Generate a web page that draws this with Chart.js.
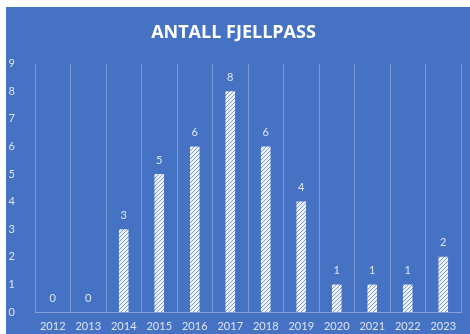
<!DOCTYPE html>
<html>
<head>
<meta charset="utf-8">
<script src="https://cdn.jsdelivr.net/npm/chart.js@4"></script>
<style>
  html, body { margin: 0; padding: 0; background: #ffffff; }
  #wrap { position: absolute; left: 6px; top: 7px; width: 464px; height: 327px; background: #4672c4; }
</style>
</head>
<body>
<div id="wrap"><canvas id="chart" width="464" height="327"></canvas></div>
<script>
const years = ['2012', '2013', '2014', '2015', '2016', '2017', '2018', '2019', '2020', '2021', '2022', '2023'];
const fjellpass = [0, 0, 3, 5, 6, 8, 6, 4, 1, 1, 1, 2];
const yTicks = [0, 1, 2, 3, 4, 5, 6, 7, 8, 9];

document.addEventListener("DOMContentLoaded", drawChart);

function makeHatch() {
  let c = document.createElement('canvas');
  c.width = 4;
  c.height = 4;
  let g = c.getContext('2d');
  g.fillStyle = '#eef2fa';
  g.fillRect(0, 0, 4, 4);
  g.strokeStyle = '#7d9bd3';
  g.lineWidth = 1;
  g.beginPath();
  g.moveTo(0, 4); g.lineTo(4, 0);
  g.moveTo(-1, 1); g.lineTo(1, -1);
  g.moveTo(3, 5); g.lineTo(5, 3);
  g.stroke();
  return g.createPattern(c, 'repeat');
}

// writes the value above each bar
const valueLabels = {
  id: 'valueLabels',
  afterDatasetsDraw(chart) {
    let ctx = chart.ctx;
    let meta = chart.getDatasetMeta(0);
    ctx.save();
    ctx.fillStyle = '#dde4f3';
    ctx.font = '11px Lato';
    ctx.textAlign = 'center';
    ctx.textBaseline = 'middle';
    meta.data.forEach((bar, i) => {
      ctx.fillText(String(fjellpass[i]), bar.x, bar.y - 14);
    });
    ctx.restore();
  }
};

function drawChart() {
  let ctx = document.getElementById('chart').getContext('2d');
  new Chart(ctx, {
    type: 'bar',
    data: {
      labels: years,
      datasets: [{
        data: fjellpass,
        backgroundColor: makeHatch(),
        borderWidth: 0,
        barPercentage: 0.27,
        categoryPercentage: 1
      }]
    },
    options: {
      responsive: false,
      animation: false,
      layout: { padding: { left: 0, right: 9, top: 0, bottom: 0 } },
      plugins: {
        legend: { display: false },
        tooltip: { enabled: false },
        title: {
          display: true,
          text: 'ANTALL FJELLPASS',
          color: '#ffffff',
          font: { family: 'Open Sans', size: 18, weight: 'bold' },
          padding: { top: 15, bottom: 20 }
        }
      },
      scales: {
        x: {
          grid: {
            offset: true,
            color: 'rgba(255,255,255,0.28)',
            lineWidth: 1,
            drawTicks: false
          },
          border: { display: true, color: 'rgba(255,255,255,0.35)' },
          ticks: {
            color: '#dde4f3',
            font: { family: 'Lato', size: 11 },
            padding: 8,
            maxRotation: 0,
            autoSkip: false
          },
          afterFit(scale) { scale.height = 22; }
        },
        y: {
          min: 0,
          max: 9,
          grid: { display: false },
          border: { display: false },
          afterBuildTicks(scale) { scale.ticks = yTicks.map(v => ({ value: v })); },
          ticks: {
            color: '#dde4f3',
            font: { family: 'Lato', size: 11 },
            padding: 12
          },
          afterFit(scale) { scale.width = 29; }
        }
      }
    },
    plugins: [valueLabels]
  });
}
</script>
</body>
</html>
